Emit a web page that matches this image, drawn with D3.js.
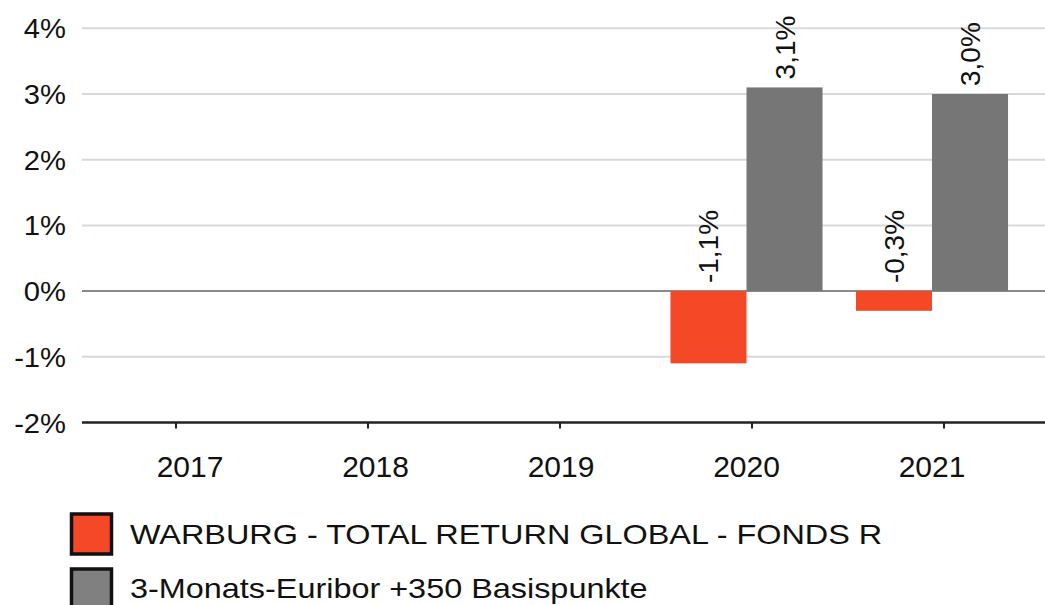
<!DOCTYPE html>
<html>
<head>
<meta charset="utf-8">
<script src="https://cdn.jsdelivr.net/npm/d3@7"></script>
<style>
  body { margin: 0; background: #fff; }
  svg text { font-family: "Liberation Sans", Arial, sans-serif; fill: #111; }
</style>
</head>
<body>
<div id="chart"></div>
<script>
// Chart data
const years = ["2017", "2018", "2019", "2020", "2021"];
const seriesNames = ["WARBURG - TOTAL RETURN GLOBAL - FONDS R", "3-Monats-Euribor +350 Basispunkte"];
const fundValues = [null, null, null, -1.1, -0.3];
const benchValues = [null, null, null, 3.1, 3.0];
const yTicks = [-2, -1, 0, 1, 2, 3, 4];
const colors = ["#f44827", "#767676"];

const W = 1045, H = 605;
const plotLeft = 82, plotRight = 1045;

const svg = d3.select("#chart").append("svg")
    .attr("width", W)
    .attr("height", H);

// tick marks sit on a slightly wider grid than the bar groups (as in the source chart)
const xTick = d3.scaleBand().domain(years).range([80, 1040]);
const x = d3.scaleBand().domain(years).range([97.25, 1024.75]);
const x1 = d3.scaleBand().domain([0, 1]).range([0, x.bandwidth()]).paddingInner(0).paddingOuter(0.22);
const y = d3.scaleLinear().domain([-2, 4]).range([422.5, 28.3]);

// Grid lines
svg.selectAll(".grid")
    .data(yTicks.filter(t => t !== -2))
    .enter().append("line")
    .attr("x1", plotLeft).attr("x2", plotRight)
    .attr("y1", d => y(d)).attr("y2", d => y(d))
    .attr("stroke", d => d === 0 ? "#8a8a8a" : "#d9d9d9")
    .attr("stroke-width", 2);

// Y labels
svg.selectAll(".ylab")
    .data(yTicks)
    .enter().append("text")
    .attr("transform", d => `translate(66,${y(d) + 10}) scale(1.08,1)`)
    .attr("text-anchor", "end")
    .style("font-size", "27px")
    .text(d => (d < 0 ? "-" + Math.abs(d) : d) + "%");

// Bars
const rows = years.map((yr, i) => ({year: yr, vals: [fundValues[i], benchValues[i]]}));
const groups = svg.selectAll(".yr").data(rows).enter().append("g")
    .attr("transform", d => `translate(${x(d.year)},0)`);

groups.selectAll("rect")
    .data(d => d.vals.map((v, k) => ({v, k})).filter(e => e.v !== null))
    .enter().append("rect")
    .attr("x", d => x1(d.k))
    .attr("width", x1.bandwidth())
    .attr("y", d => y(Math.max(0, d.v)))
    .attr("height", d => Math.abs(y(d.v) - y(0)))
    .attr("fill", d => colors[d.k]);

// Value labels (rotated)
const fmt = v => v.toFixed(1).replace(".", ",") + "%";
groups.selectAll(".val")
    .data(d => d.vals.map((v, k) => ({v, k})).filter(e => e.v !== null))
    .enter().append("text")
    .attr("transform", d => `translate(${x1(d.k) + x1.bandwidth() / 2 + 10},${y(Math.max(0, d.v)) - 8}) rotate(-90)`)
    .attr("text-anchor", "start")
    .style("font-size", "28px")
    .text(d => fmt(d.v));

// Bottom axis
const xAxis = svg.append("g")
    .attr("transform", `translate(0,${y(-2)})`)
    .call(d3.axisBottom(xTick).tickSize(6).tickSizeOuter(0).tickFormat(""));
xAxis.select(".domain").attr("d", `M${plotLeft},0H${plotRight}`)
    .attr("stroke", "#222").attr("stroke-width", 2.5);
xAxis.selectAll(".tick line").attr("stroke", "#222").attr("stroke-width", 2);

svg.selectAll(".xlab")
    .data(years)
    .enter().append("text")
    .attr("x", d => x(d) + x.bandwidth() / 2)
    .attr("y", 477)
    .attr("text-anchor", "middle")
    .style("font-size", "30px")
    .text(d => d);

// Legend
const legend = svg.append("g");
const legendRows = [{y: 514, ty: 544}, {y: 569, ty: 598}];
seriesNames.forEach((name, i) => {
    legend.append("rect")
        .attr("x", 71.5).attr("y", legendRows[i].y)
        .attr("width", 40).attr("height", 40)
        .attr("fill", i === 1 ? "#808080" : colors[i])
        .attr("stroke", "#111").attr("stroke-width", 3.5);
    legend.append("text")
        .attr("transform", `translate(130,${legendRows[i].ty}) scale(1.2,1)`)
        .style("font-size", "27px")
        .text(name);
});
</script>
</body>
</html>
